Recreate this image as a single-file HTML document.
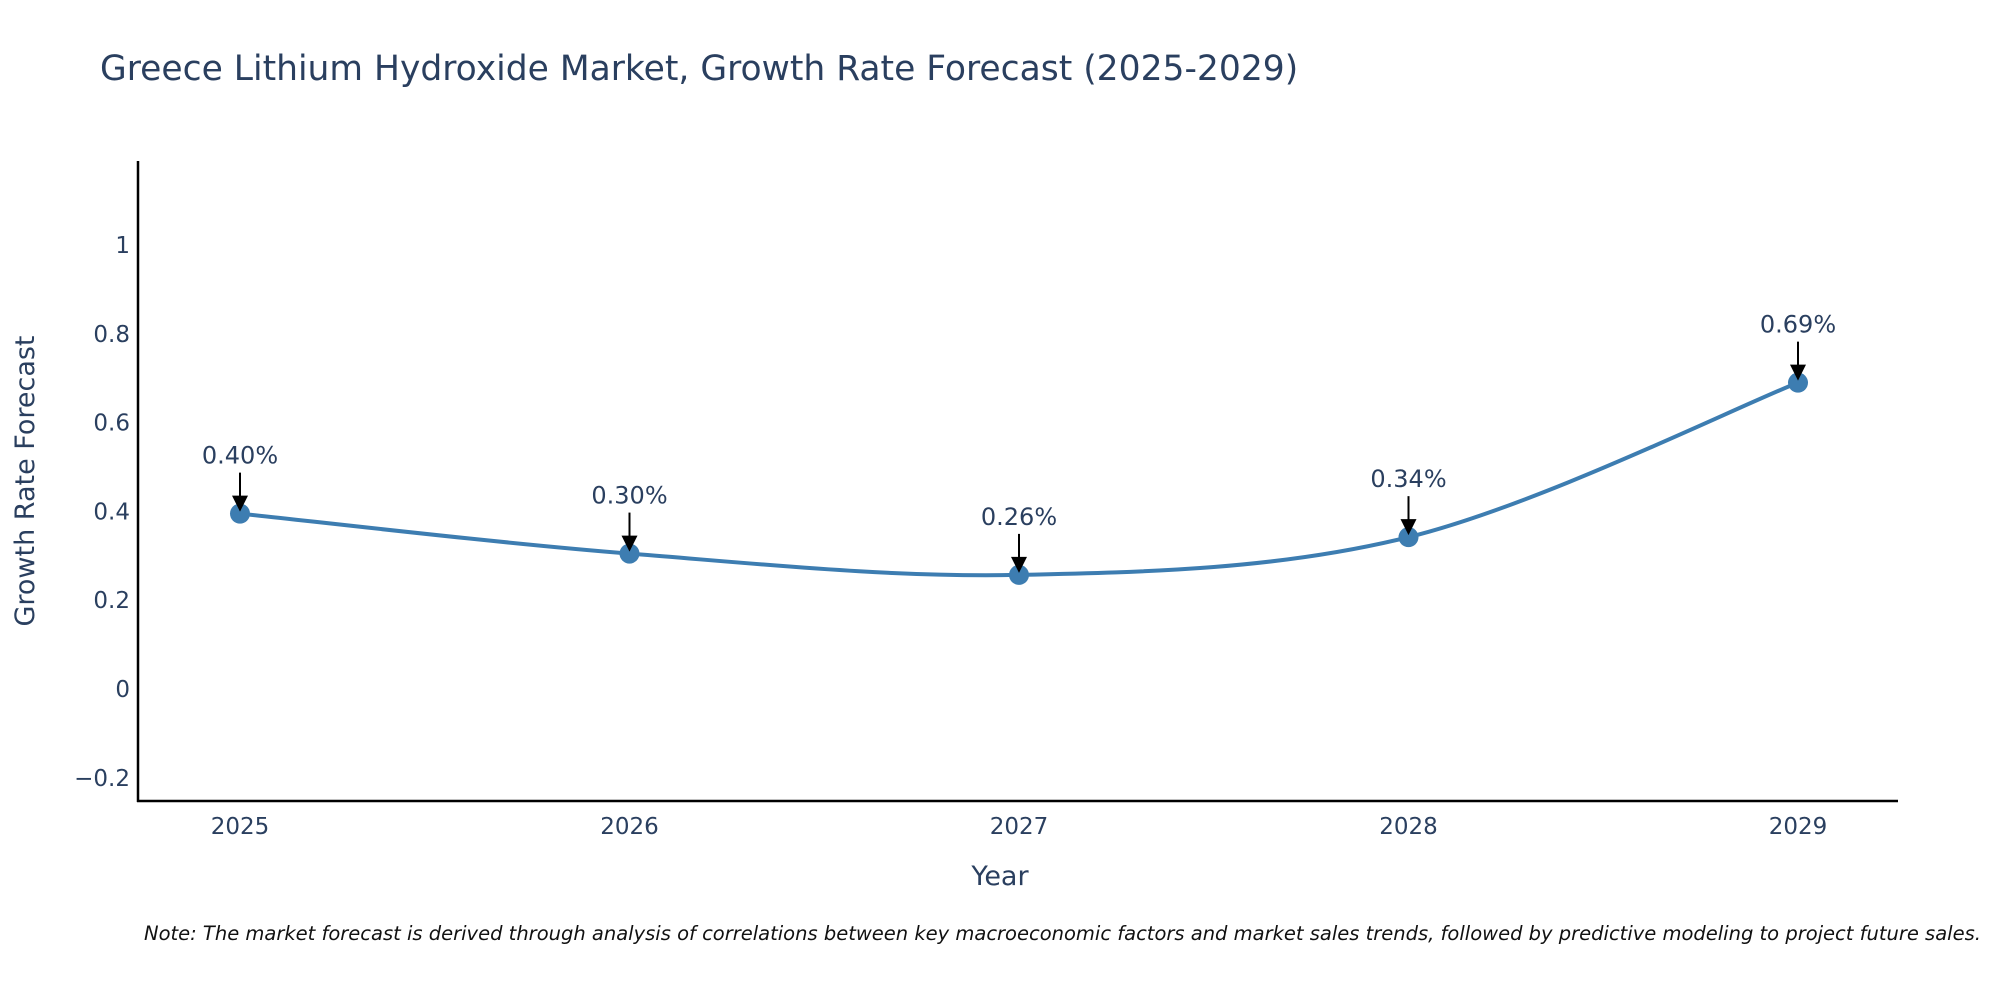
<!DOCTYPE html>
<html><head><meta charset="utf-8"><style>
body{margin:0;background:#fff;}
svg text{font-family:"DejaVu Sans","Liberation Sans",sans-serif;fill:#2a3f5f;}
</style></head><body>
<svg id="chart" width="2000" height="1000" xmlns="http://www.w3.org/2000/svg">
<text x="100" y="80" font-size="34.5">Greece Lithium Hydroxide Market, Growth Rate Forecast (2025-2029)</text>
<g id="yt"></g><g id="xt"></g><g id="marks"></g>
<line x1="138" y1="161" x2="138" y2="802" stroke="#000" stroke-width="2.5"/>
<line x1="137" y1="801" x2="1898" y2="801" stroke="#000" stroke-width="2.5"/>
<text x="1000" y="885" font-size="27" text-anchor="middle">Year</text>
<text transform="translate(34,481) rotate(-90)" font-size="27" text-anchor="middle">Growth Rate Forecast</text>
<text x="144" y="940" font-size="19.5" font-style="italic" style="fill:#111">Note: The market forecast is derived through analysis of correlations between key macroeconomic factors and market sales trends, followed by predictive modeling to project future sales.</text>
</svg>
<script>
const years=["2025","2026","2027","2028","2029"];
const values=[0.395,0.305,0.257,0.342,0.69];
const labels=["0.40%","0.30%","0.26%","0.34%","0.69%"];
const yTicks=[-0.2,0,0.2,0.4,0.6,0.8,1];
const yTickLabels=["\u22120.2","0","0.2","0.4","0.6","0.8","1"];
const NS="http://www.w3.org/2000/svg";
const X=i=>240+i*(1798-240)/4;
const Y=v=>689-v*444;
function mk(t,a,p){const e=document.createElementNS(NS,t);for(const k in a)e.setAttribute(k,a[k]);p.appendChild(e);return e;}
const yt=document.getElementById('yt'),xt=document.getElementById('xt'),m=document.getElementById('marks');
yTicks.forEach((v,i)=>{const t=mk('text',{x:130,y:Y(v)+8,'font-size':23,'text-anchor':'end'},yt);t.textContent=yTickLabels[i];

});
years.forEach((y,i)=>{const t=mk('text',{x:X(i),y:834,'font-size':23,'text-anchor':'middle'},xt);t.textContent=y;

});
const P=values.map((v,i)=>[X(i),Y(v)]);
let d=`M${P[0][0]},${P[0][1]}`;
for(let i=0;i<P.length-1;i++){const p0=P[i-1]||P[i],p1=P[i],p2=P[i+1],p3=P[i+2]||P[i+1];const k=1/6;
d+=` C${p1[0]+(p2[0]-p0[0])*k},${p1[1]+(p2[1]-p0[1])*k} ${p2[0]-(p3[0]-p1[0])*k},${p2[1]-(p3[1]-p1[1])*k} ${p2[0]},${p2[1]}`;}
const ln=mk('path',{d:d,fill:'none',stroke:'#3d7db1','stroke-width':4},m);


P.forEach((p,i)=>{const c=mk('circle',{cx:p[0],cy:p[1],r:10,fill:'#3d7db1'},m);


const a=mk('line',{x1:p[0],y1:p[1]-41,x2:p[0],y2:p[1]-16,stroke:'#000','stroke-width':2},m);


const h=mk('polygon',{points:`${p[0]-8},${p[1]-18} ${p[0]+8},${p[1]-18} ${p[0]},${p[1]-2}`,fill:'#000'},m);


const t=mk('text',{x:p[0],y:p[1]-50,'font-size':24,'text-anchor':'middle'},m);t.textContent=labels[i];

});
</script>
</body></html>
